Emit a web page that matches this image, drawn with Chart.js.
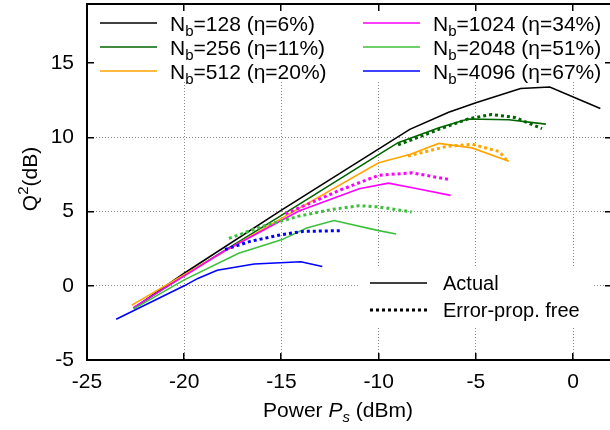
<!DOCTYPE html>
<html>
<head>
<meta charset="utf-8">
<script src="https://cdn.jsdelivr.net/npm/chart.js@4.4.1/dist/chart.umd.min.js"></script>
<style>
  html, body { margin: 0; padding: 0; background: #fff; overflow: hidden; }
  #wrap { width: 615px; height: 430px; }
</style>
</head>
<body>
<div id="wrap"><canvas id="qChart" width="615" height="430"></canvas></div>
<script>
// values (x = power in dBm, y = Q^2 in dB)
var nb128X = [-22.6, -20, -15, -8.4, -6.4, -5.0, -2.7, -1.2, 1.4];
var nb128Y = [-1.5, 0.85, 5.1, 10.55, 11.7, 12.35, 13.3, 13.4, 11.95];

var nb256X = [-22.6, -20, -15, -10, -9.0, -6.9, -5.4, -3.3, -1.4];
var nb256Y = [-1.5, 0.7, 4.75, 8.85, 9.65, 10.65, 11.25, 11.2, 10.9];
var nb256FreeX = [-9.0, -7.0, -5.4, -4.2, -3.0, -1.6];
var nb256FreeY = [9.5, 10.5, 11.25, 11.55, 11.35, 10.6];

var nb512X = [-22.7, -20, -15, -10, -8.4, -6.9, -5.2, -3.3];
var nb512Y = [-1.3, 0.75, 4.55, 8.3, 8.85, 9.6, 9.3, 8.4];
var nb512FreeX = [-8.5, -6.5, -5.2, -3.8, -3.4];
var nb512FreeY = [8.75, 9.4, 9.55, 9.05, 8.45];

var nb1024X = [-22.6, -18, -14.1, -11, -9.5, -8.2, -6.3];
var nb1024Y = [-1.45, 2.3, 5.05, 6.55, 6.92, 6.6, 6.1];
var nb1024FreeX = [-14.8, -11.9, -10, -8.3, -6.3];
var nb1024FreeY = [4.85, 6.5, 7.45, 7.62, 7.15];

var nb2048X = [-22.6, -20, -17.2, -15, -13.7, -12.3, -10, -9.1];
var nb2048Y = [-1.55, 0.4, 2.2, 3.1, 3.9, 4.4, 3.72, 3.5];
var nb2048FreeX = [-17.7, -16, -14.1, -12.4, -11, -10, -8.3];
var nb2048FreeY = [3.2, 4.0, 4.7, 5.15, 5.4, 5.32, 4.98];

var nb4096X = [-23.5, -20, -19.3, -18.3, -16.4, -14, -12.9];
var nb4096Y = [-2.25, 0, 0.5, 1.05, 1.47, 1.62, 1.3];
var nb4096FreeX = [-17.9, -16.6, -15, -13.9, -12.0];
var nb4096FreeY = [2.45, 3.0, 3.45, 3.67, 3.72];

var xTicks = [-25, -20, -15, -10, -5, 0];
var yTicks = [-5, 0, 5, 10, 15];

var seriesNames = ['128 (\u03b7=6%)', '256 (\u03b7=11%)', '512 (\u03b7=20%)',
                   '1024 (\u03b7=34%)', '2048 (\u03b7=51%)', '4096 (\u03b7=67%)'];
var seriesColors = ['#000000', '#006400', '#ffa500', '#ff00ff', '#3cc03c', '#0000ff'];

function pts(xv, yv) {
    var out = [];
    for (var i = 0; i < xv.length; i++) out.push({x: xv[i], y: yv[i]});
    return out;
}

function solid(xv, yv, color) {
    return {data: pts(xv, yv), borderColor: color, borderWidth: 1.6,
            pointRadius: 0, showLine: true, fill: false, tension: 0};
}
function dotted(xv, yv, color) {
    return {data: pts(xv, yv), borderColor: color, borderWidth: 3, borderDash: [3, 3],
            pointRadius: 0, showLine: true, fill: false, tension: 0};
}

var FONT = '"Liberation Sans", Arial, sans-serif';

// draws a line of text made of pieces with their own font / vertical shift
function richText(ctx, parts, x, y, align) {
    var total = 0;
    parts.forEach(function (p) { ctx.font = p.f; p.w = ctx.measureText(p.t).width; total += p.w; });
    var cx = align === 'center' ? x - total / 2 : x;
    ctx.textAlign = 'left';
    ctx.textBaseline = 'alphabetic';
    parts.forEach(function (p) { ctx.font = p.f; ctx.fillText(p.t, cx, y + (p.dy || 0)); cx += p.w; });
}

var decorPlugin = {
    id: 'decor',
    afterDraw: function (chart) {
        var ctx = chart.ctx, a = chart.chartArea;
        var xs = chart.scales.x, ys = chart.scales.y;
        var L = Math.round(a.left), R = Math.round(a.right), T = Math.round(a.top), B = Math.round(a.bottom);
        ctx.save();

        // key backgrounds hide the grid
        ctx.fillStyle = '#ffffff';
        ctx.fillRect(L + 2, T + 2, R - L - 4, 76);
        ctx.fillRect(358, 266, 235, 60);

        // frame, 2px, and inward ticks (mirrored)
        ctx.fillStyle = '#000000';
        ctx.fillRect(L - 1, T - 1, R - L + 2, 2);
        ctx.fillRect(L - 1, B - 1, R - L + 2, 2);
        ctx.fillRect(L - 1, T - 1, 2, B - T + 2);
        ctx.fillRect(R - 1, T - 1, 2, B - T + 2);
        xTicks.forEach(function (v) {
            var px = Math.round(xs.getPixelForValue(v));
            ctx.fillRect(px - 1, B - 7, 1.5, 7);
            ctx.fillRect(px - 1, T, 1.5, 7);
        });
        yTicks.forEach(function (v) {
            var py = Math.round(ys.getPixelForValue(v));
            ctx.fillRect(L, py - 1, 7, 1.5);
            ctx.fillRect(R - 7, py - 1, 7, 1.5);
        });

        // top key: two columns of three
        var big = '21px ' + FONT, small = '15px ' + FONT;
        for (var i = 0; i < 6; i++) {
            var col = Math.floor(i / 3), row = i % 3;
            var y = 23 + row * 24;
            var x0 = col === 0 ? 100 : 363;
            ctx.strokeStyle = seriesColors[i];
            ctx.lineWidth = 1.6;
            ctx.beginPath(); ctx.moveTo(x0, y); ctx.lineTo(x0 + 57, y); ctx.stroke();
            ctx.fillStyle = '#000';
            richText(ctx, [{t: 'N', f: big}, {t: 'b', f: small, dy: 5},
                           {t: '=' + seriesNames[i], f: big}], x0 + 70, y + 8, 'left');
        }

        // bottom key: line styles
        ctx.strokeStyle = '#000';
        ctx.lineWidth = 1.6;
        ctx.beginPath(); ctx.moveTo(370, 283); ctx.lineTo(427, 283); ctx.stroke();
        ctx.lineWidth = 3;
        ctx.setLineDash([3, 3]);
        ctx.beginPath(); ctx.moveTo(370, 310); ctx.lineTo(427, 310); ctx.stroke();
        ctx.setLineDash([]);
        var mid = '20px ' + FONT;
        richText(ctx, [{t: 'Actual', f: mid}], 443, 290, 'left');
        richText(ctx, [{t: 'Error-prop. free', f: mid}], 443, 317, 'left');

        // axis titles
        richText(ctx, [{t: 'Power ', f: big}, {t: 'P', f: 'italic ' + big},
                       {t: 's', f: 'italic ' + small, dy: 5}, {t: ' (dBm)', f: big}],
                 338, 417, 'center');
        ctx.translate(37, 179);
        ctx.rotate(-Math.PI / 2);
        richText(ctx, [{t: 'Q', f: big}, {t: '2', f: small, dy: -9}, {t: '(dB)', f: big}],
                 0, 0, 'center');
        ctx.restore();
    }
};

var qChart = new Chart(document.getElementById('qChart').getContext('2d'), {
    type: 'scatter',
    data: {
        datasets: [
            solid(nb4096X, nb4096Y, seriesColors[5]),
            dotted(nb4096FreeX, nb4096FreeY, seriesColors[5]),
            solid(nb2048X, nb2048Y, seriesColors[4]),
            dotted(nb2048FreeX, nb2048FreeY, seriesColors[4]),
            solid(nb1024X, nb1024Y, seriesColors[3]),
            dotted(nb1024FreeX, nb1024FreeY, seriesColors[3]),
            solid(nb512X, nb512Y, seriesColors[2]),
            dotted(nb512FreeX, nb512FreeY, seriesColors[2]),
            solid(nb256X, nb256Y, seriesColors[1]),
            dotted(nb256FreeX, nb256FreeY, seriesColors[1]),
            solid(nb128X, nb128Y, seriesColors[0])
        ]
    },
    options: {
        responsive: false,
        animation: false,
        layout: {padding: {top: 4, right: 3, left: 0, bottom: 0}},
        plugins: {legend: {display: false}, tooltip: {enabled: false}},
        scales: {
            x: {
                type: 'linear', min: -25, max: 2,
                afterBuildTicks: function (s) { s.ticks = xTicks.map(function (v) { return {value: v}; }); },
                afterFit: function (s) { s.height = 70; s.paddingLeft = 0; s.paddingRight = 0; },
                grid: {color: '#8a8a8a', lineWidth: 1, drawTicks: false},
                border: {display: false, dash: [1, 2]},
                ticks: {color: '#000', font: {family: FONT, size: 21}, padding: 10, maxRotation: 0}
            },
            y: {
                type: 'linear', min: -5, max: 19,
                afterBuildTicks: function (s) { s.ticks = yTicks.map(function (v) { return {value: v}; }); },
                afterFit: function (s) { s.width = 87; s.paddingTop = 0; s.paddingBottom = 0; },
                grid: {color: '#8a8a8a', lineWidth: 1, drawTicks: false},
                border: {display: false, dash: [1, 2]},
                ticks: {color: '#000', font: {family: FONT, size: 21}, padding: 13}
            }
        }
    },
    plugins: [decorPlugin]
});
</script>
</body>
</html>
